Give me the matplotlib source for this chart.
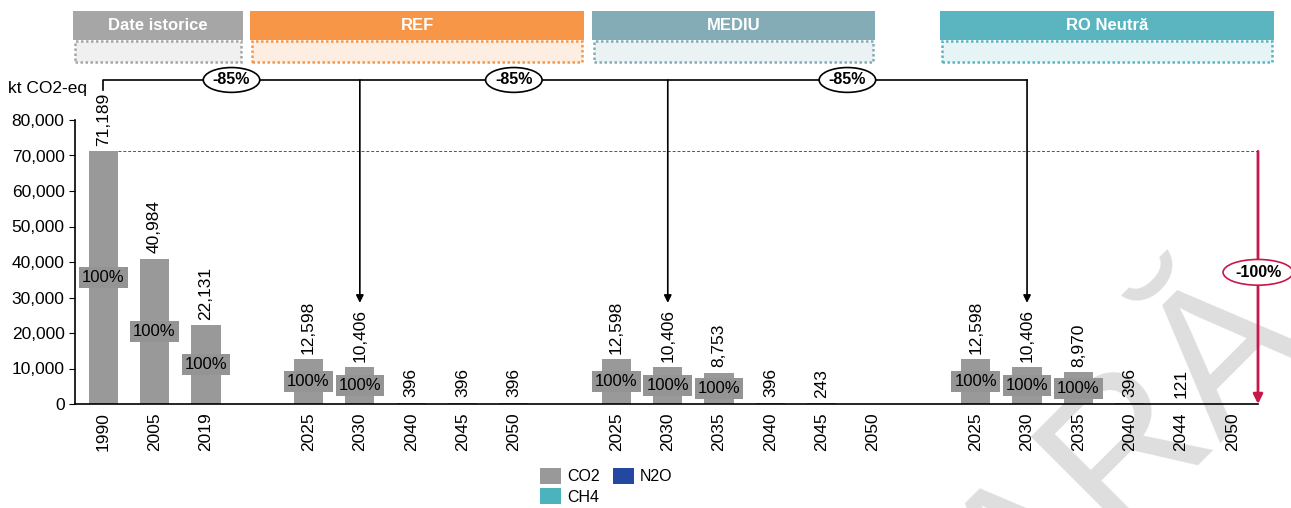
import numpy as np
import matplotlib
matplotlib.use('Agg')
import matplotlib.pyplot as plt
from matplotlib.patches import Rectangle, Patch

plt.rcParams['font.family'] = ['Liberation Sans', 'DejaVu Sans']

# Data
hist_years = ['1990', '2005', '2019']
hist_vals = [71189, 40984, 22131]
ref_years = ['2025', '2030', '2040', '2045', '2050']
ref_vals = [12598, 10406, 396, 396, 396]
mediu_years = ['2025', '2030', '2035', '2040', '2045', '2050']
mediu_vals = [12598, 10406, 8753, 396, 243, 0]
ro_years = ['2025', '2030', '2035', '2040', '2044', '2050']
ro_vals = [12598, 10406, 8970, 396, 121, 0]
co2_share = '100%'
reduction_labels = ['-85%', '-85%', '-85%']
net_zero_label = '-100%'
scenarios = ['Date istorice', 'REF', 'MEDIU', 'RO Neutră']
legend_items = ['CO2', 'CH4', 'N2O']

W, H = 1291, 508
fig = plt.figure(figsize=(W / 100, H / 100), dpi=100)

# watermark, behind everything
fig.text(1310 / W, 1 - 335 / H, 'PRELIMINARĂ', fontsize=145, color='#DEDEDE',
         rotation=45, ha='right', va='baseline', rotation_mode='anchor', zorder=-1)

ax = fig.add_axes([75 / W, 1 - 404 / H, (1258 - 75) / W, 284 / H])
ax.patch.set_alpha(0)

# positions: one empty slot between groups
groups = [(hist_years, hist_vals), (ref_years, ref_vals),
          (mediu_years, mediu_vals), (ro_years, ro_vals)]
xs, years, vals, starts = [], [], [], []
p = 0
for yrs, v in groups:
    starts.append(p)
    for y_, val in zip(yrs, v):
        xs.append(p); years.append(y_); vals.append(val)
        p += 1
    p += 1
xs = np.array(xs)
vals = np.array(vals)

bar_col = '#999999'
ax.bar(xs, vals, width=0.57, color=bar_col, zorder=2)

for x, v in zip(xs, vals):
    if v > 0:
        ax.annotate(f'{v:,}', (x, v), xytext=(0, 4), textcoords='offset points',
                    rotation=90, ha='center', va='bottom', fontsize=12.5)
    if v > 1000:
        ax.text(x, v / 2, co2_share, ha='center', va='center', fontsize=12,
                bbox=dict(fc='#949494', ec='none', pad=2.2), zorder=3)

ax.set_xlim(-0.55, 22.5)
ax.set_ylim(0, 80000)
ax.set_yticks(np.arange(0, 80001, 10000))
ax.set_yticklabels([f'{t:,}' for t in range(0, 80001, 10000)], fontsize=12.5)
ax.set_xticks(xs)
ax.set_xticklabels(years, rotation=90, fontsize=12.5)
ax.tick_params(axis='x', length=0, pad=6)
ax.tick_params(axis='y', length=4, direction='out')
for s in ['top', 'right']:
    ax.spines[s].set_visible(False)
ax.spines['left'].set_linewidth(1.2)
ax.spines['bottom'].set_linewidth(1.2)

fig.text(8 / W, 1 - 88 / H, 'kt CO2-eq', fontsize=12.5, va='center')

# dashed reference line at 1990 level
ax.plot([xs[0] + 0.285, 22.5], [vals[0], vals[0]], ls=(0, (3, 2)), lw=0.7,
        color='#555555', zorder=1)

# -100% arrow
red = '#C8174B'
ax.annotate('', xy=(22.5, 0), xytext=(22.5, vals[0]),
            arrowprops=dict(arrowstyle='-|>', color=red, lw=2, mutation_scale=14,
                            shrinkA=0, shrinkB=0), annotation_clip=False, zorder=4)
ax.text(22.5, vals[0] / 2 + 1500, net_zero_label, ha='center', va='center',
        fontsize=11.5, fontweight='bold',
        bbox=dict(boxstyle='ellipse,pad=0.1', fc='white', ec=red, lw=1.2),
        clip_on=False, zorder=5)

# -85% brackets
tr = ax.get_xaxis_transform()
x_1990 = xs[0]
targets = [starts[1] + 1, starts[2] + 1, starts[3] + 1]  # 2030 in each scenario
yb = 1.141
ax.plot([x_1990, x_1990, targets[-1]], [1.106, yb, yb], color='black', lw=1.2,
        transform=tr, clip_on=False)
for t in targets:
    ax.annotate('', xy=(t, 0.356), xycoords=tr, xytext=(t, yb), textcoords=tr,
                arrowprops=dict(arrowstyle='-|>', color='black', lw=1.2,
                                mutation_scale=11, shrinkA=0, shrinkB=0),
                annotation_clip=False)
prev = x_1990
for t, lab in zip(targets, reduction_labels):
    ax.text((prev + t) / 2, yb, lab, transform=tr, ha='center', va='center',
            fontsize=11.5, fontweight='bold', clip_on=False, zorder=5,
            bbox=dict(boxstyle='ellipse,pad=0.08', fc='white', ec='black', lw=1.2))
    prev = t

# scenario headers
head_cols = ['#A6A6A6', '#F79646', '#84ACB6', '#5BB5C0']
light_cols = ['#F0F0F0', '#FDEEE1', '#EBF2F4', '#E6F4F6']
spans = [(73, 243), (250, 584), (592, 875), (940, 1274)]
for name, (x0, x1), c, lc in zip(scenarios, spans, head_cols, light_cols):
    fig.add_artist(Rectangle((x0 / W, 1 - 40 / H), (x1 - x0) / W, 29 / H,
                             transform=fig.transFigure, fc=c, ec='none'))
    fig.add_artist(Rectangle(((x0 + 2) / W, 1 - 62 / H), (x1 - x0 - 4) / W, 21 / H,
                             transform=fig.transFigure, fc=lc, ec=c, lw=1.8,
                             ls=(0, (1, 1))))
    fig.text((x0 + x1) / 2 / W, 1 - 26 / H, name, color='white', fontsize=12,
             fontweight='bold', ha='center', va='center')

# legend
leg_cols = {'CO2': '#999999', 'CH4': '#4BB3BE', 'N2O': '#2347A3'}
handles = [Patch(fc=leg_cols[k], ec='none') for k in legend_items]
fig.legend(handles, legend_items, ncol=2, frameon=False, fontsize=11.5,
           loc='upper left', bbox_to_anchor=(534 / W, 1 - 462 / H),
           handlelength=1.3, handleheight=1.1, handletextpad=0.4,
           columnspacing=0.8, labelspacing=0.25, borderaxespad=0)

fig.savefig('out.png', dpi=100)
